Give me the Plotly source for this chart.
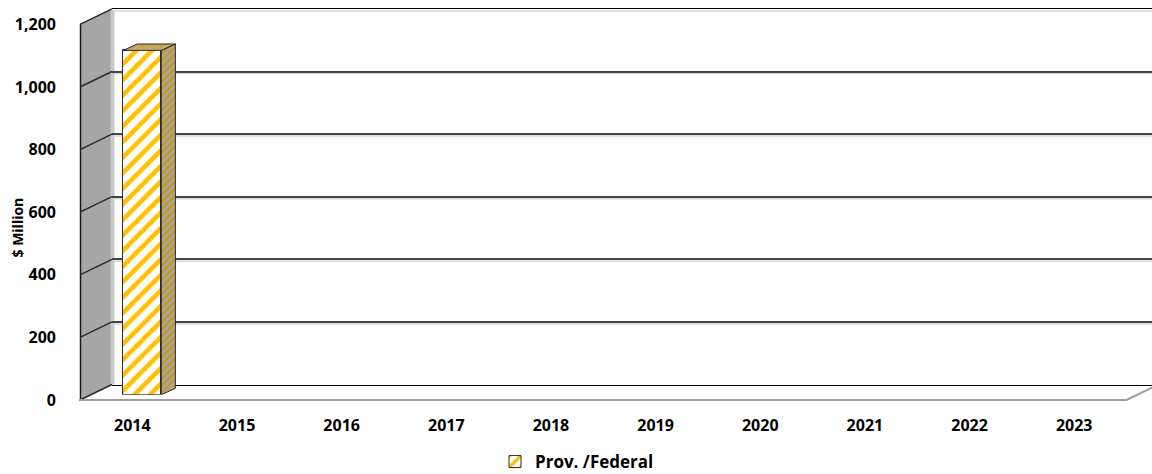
import plotly.graph_objects as go

# ---- data -------------------------------------------------------------
years = ["2014", "2015", "2016", "2017", "2018", "2019", "2020", "2021", "2022", "2023"]
prov_federal = [1100, None, None, None, None, None, None, None, None, None]
y_ticks = [0, 200, 400, 600, 800, 1000, 1200]
series_name = "Prov. /Federal"
y_title = "$ Million"

# ---- geometry of the oblique 3-D box (pixels) --------------------------
W, H = 1152, 474
VMAX = y_ticks[-1]
CAT_W = 104.65              # width of one category slot
BACK_LEFT, BACK_ZERO, BACK_TOP = 112.0, 384.5, 8.9
DEPTH_DX, DEPTH_DY = -32.0, 15.5      # shift from back wall to front edge
FRONT_LEFT = BACK_LEFT + DEPTH_DX
BAR_LEFT, BAR_ZERO = 90.0, 394.7      # plane of the bars' front faces
BAR_W = 0.364                          # bar width in category units
BAR_DEPTH_PX = (14.0, -6.4)            # bar depth (dx, dy) in pixels
PX_PER_UNIT = (BACK_ZERO - BACK_TOP) / VMAX

FONT = "Open Sans"


def px(x):
    return x / W


def py(y):
    return 1 - y / H


def back_y(v):
    return BACK_ZERO - v * PX_PER_UNIT


n = len(years)
idx = list(range(n))

# axis domains
front_x = [px(FRONT_LEFT), px(FRONT_LEFT + n * CAT_W)]
front_y = [py(back_y(0) + DEPTH_DY), py(back_y(VMAX) + DEPTH_DY)]
back_x = [px(BACK_LEFT), 1.0]
back_y_dom = [py(back_y(0)), py(back_y(VMAX))]
bar_x = [px(BAR_LEFT), px(BAR_LEFT + n * CAT_W)]
bar_y = [py(BAR_ZERO), py(BAR_ZERO - VMAX * PX_PER_UNIT)]

fig = go.Figure()

# empty carriers so the label axes and the back-wall grid get drawn
for xa, ya in (("x", "y"), ("x2", "y2")):
    fig.add_trace(go.Scatter(x=idx, y=[None] * n, xaxis=xa, yaxis=ya, mode="markers",
                             hoverinfo="skip", showlegend=False))

# front faces of the bars
fig.add_trace(go.Bar(
    x=idx, y=prov_federal, width=BAR_W, name=series_name,
    xaxis="x3", yaxis="y3",
    marker=dict(color="white", line=dict(color="#2b2b2b", width=1),
                pattern=dict(shape="/", fgcolor="#FFC000", bgcolor="white",
                             fgopacity=1, size=11, solidity=0.42)),
    hoverinfo="skip", showlegend=True,
))

# side and top faces of the bars
ddx = BAR_DEPTH_PX[0] / CAT_W
ddy = -BAR_DEPTH_PX[1] / PX_PER_UNIT
for i, v in zip(idx, prov_federal):
    if v is None:
        continue
    x0, x1 = i - BAR_W / 2, i + BAR_W / 2
    fig.add_trace(go.Scatter(
        x=[x1, x1 + ddx, x1 + ddx, x1, x1], y=[0, ddy, v + ddy, v, 0],
        xaxis="x3", yaxis="y3", mode="lines", fill="toself",
        fillcolor="#A8A8A8",
        fillpattern=dict(shape="/", fgcolor="#C49A1E", bgcolor="#A6A6A6",
                         fgopacity=1, size=5, solidity=0.5),
        line=dict(color="#2b2b2b", width=1), hoverinfo="skip", showlegend=False,
    ))
    fig.add_trace(go.Scatter(
        x=[x0, x1, x1 + ddx, x0 + ddx, x0], y=[v, v, v + ddy, v + ddy, v],
        xaxis="x3", yaxis="y3", mode="lines", fill="toself",
        fillcolor="#C8B27A",
        fillpattern=dict(shape="/", fgcolor="#D9A623", bgcolor="#B5AB90",
                         fgopacity=1, size=5, solidity=0.5),
        line=dict(color="#2b2b2b", width=1), hoverinfo="skip", showlegend=False,
    ))

# ---- walls and floor ------------------------------------------------------
shapes = []
wall_top_front = back_y(VMAX) + DEPTH_DY
wall_bot_front = back_y(0) + DEPTH_DY
# left side wall
shapes.append(dict(
    type="path", xref="paper", yref="paper", layer="below",
    path=(f"M{px(FRONT_LEFT)},{py(wall_top_front)} L{px(BACK_LEFT)},{py(back_y(VMAX))} "
          f"L{px(BACK_LEFT)},{py(back_y(0))} L{px(FRONT_LEFT)},{py(wall_bot_front)} Z"),
    fillcolor="#A6A6A6", line=dict(width=0)))
shapes.append(dict(
    type="rect", xref="paper", yref="paper", layer="below",
    x0=px(BACK_LEFT - 1.5), x1=px(BACK_LEFT + 2.5),
    y0=py(back_y(0)), y1=py(back_y(VMAX) + 1),
    fillcolor="#C9C9C9", line=dict(width=0)))
# soft shading just under each back-wall grid line
for v in y_ticks[1:]:
    shapes.append(dict(
        type="line", xref="paper", yref="paper", layer="below",
        x0=px(BACK_LEFT + 2.5), x1=1.0,
        y0=py(back_y(v) + 2), y1=py(back_y(v) + 2),
        line=dict(color="#D6D6D6", width=1.5)))
shapes.append(dict(
    type="line", xref="paper", yref="paper",
    x0=px(FRONT_LEFT + 0.5), x1=px(FRONT_LEFT + 0.5),
    y0=py(wall_top_front), y1=py(wall_bot_front),
    line=dict(color="#1a1a1a", width=1.5)))
# grid lines running across the side wall
for v in y_ticks:
    shapes.append(dict(
        type="line", xref="paper", yref="paper",
        x0=px(FRONT_LEFT), y0=py(back_y(v) + DEPTH_DY),
        x1=px(BACK_LEFT), y1=py(back_y(v)),
        line=dict(color="#2a2a2a", width=1.5)))
# front edge of the floor
floor_right = FRONT_LEFT + n * CAT_W
shapes.append(dict(
    type="path", xref="paper", yref="paper",
    path=(f"M{px(FRONT_LEFT - 1)},{py(wall_bot_front)} L{px(floor_right)},{py(wall_bot_front)} "
          f"L{px(floor_right - DEPTH_DX)},{py(back_y(0))}"),
    line=dict(color="#9E9E9E", width=2)))

# ---- axis title ----------------------------------------------------------
annotations = [dict(
    text=y_title, xref="paper", yref="paper", x=px(16.5), y=py(228),
    xanchor="center", yanchor="middle", textangle=-90, showarrow=False,
    font=dict(family=FONT, size=14, weight="bold", color="black"))]

tick_font = dict(family=FONT, size=16, weight="bold", color="black")
hidden = dict(showgrid=False, zeroline=False, showline=False, showticklabels=False, ticks="")

fig.update_layout(
    width=W, height=H, autosize=False,
    margin=dict(l=0, r=0, t=0, b=0, autoexpand=False),
    paper_bgcolor="white", plot_bgcolor="rgba(0,0,0,0)",
    shapes=shapes, annotations=annotations,
    bargap=0,
    # front edge: carries the tick labels
    xaxis=dict(domain=front_x, range=[-0.5, n - 0.5], anchor="y", automargin=False,
               tickmode="array", tickvals=idx, ticktext=years, tickfont=tick_font,
               showgrid=False, zeroline=False, showline=False, ticks="",
               ticklabelstandoff=14),
    yaxis=dict(domain=front_y, range=[0, VMAX], anchor="x", automargin=False,
               tickmode="array", tickvals=y_ticks, tickformat=",d", tickfont=tick_font,
               showgrid=False, zeroline=False, showline=False, ticks="",
               ticklabelstandoff=23),
    # back wall: grid lines
    xaxis2=dict(domain=back_x, range=[-0.5, -0.5 + (W - BACK_LEFT) / CAT_W], anchor="y2",
                showgrid=False, zeroline=False, showticklabels=False, ticks="",
                showline=True, mirror=True, linecolor="black", linewidth=1.3),
    yaxis2=dict(domain=back_y_dom, range=[0, VMAX], anchor="x2",
                tickmode="array", tickvals=y_ticks[1:-1], showticklabels=False, ticks="",
                showgrid=True, gridcolor="#454545", gridwidth=2,
                zeroline=False, showline=False),
    # plane of the bars
    xaxis3=dict(domain=bar_x, range=[-0.5, n - 0.5], anchor="y3", **hidden),
    yaxis3=dict(domain=bar_y, range=[0, VMAX], anchor="x3", **hidden),
    legend=dict(orientation="h", x=px(495), xanchor="left", y=py(462), yanchor="middle",
                font=dict(family=FONT, size=17, weight="bold", color="black"),
                bgcolor="rgba(0,0,0,0)", itemwidth=30),
)

fig.write_html("out.html")
